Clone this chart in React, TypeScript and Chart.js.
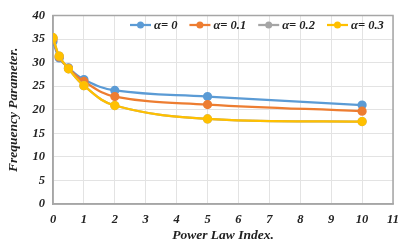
import React, { useEffect, useRef } from "react";
import { Chart, registerables } from "chart.js";

Chart.register(...registerables);

const powerLawIndex = [0, 0.2, 0.5, 1, 2, 5, 10];
const alpha0 = [34.5, 31.0, 28.9, 26.4, 24.1, 22.8, 21.0];
const alpha01 = [35.0, 31.2, 28.8, 26.0, 22.8, 21.1, 19.7];
const alpha02 = [35.3, 31.4, 28.7, 25.1, 20.9, 18.05, 17.5];
const alpha03 = [35.3, 31.4, 28.7, 25.1, 20.9, 18.05, 17.5];
const seriesLabels = ["α= 0", "α= 0.1", "α= 0.2", "α= 0.3"];
const seriesColors = ["#5B9BD5", "#ED7D31", "#A5A5A5", "#FFC000"];
const xTitle = "Power Law Index.";
const yTitle = "Frequency Parameter.";

const FONT = "Liberation Serif";

const legendPlugin = {
  id: "insideLegend",
  afterDraw(chart: any) {
    const ctx = chart.ctx;
    ctx.save();
    ctx.font = `italic bold 12.5px "${FONT}"`;
    ctx.textBaseline = "middle";
    let x = 130;
    const y = 25;
    chart.data.datasets.forEach((ds: any) => {
      ctx.strokeStyle = ds.borderColor;
      ctx.lineWidth = 2.25;
      ctx.beginPath();
      ctx.moveTo(x, y);
      ctx.lineTo(x + 21, y);
      ctx.stroke();
      ctx.fillStyle = ds.borderColor;
      ctx.beginPath();
      ctx.arc(x + 10.5, y, 3.5, 0, Math.PI * 2);
      ctx.fill();
      ctx.fillStyle = "#222";
      ctx.fillText(ds.label, x + 24, y + 0.5);
      x += 24 + ctx.measureText(ds.label).width + 12;
    });
    ctx.restore();
  },
};

const borderPlugin = {
  id: "plotBorder",
  beforeDatasetsDraw(chart: any) {
    const { ctx, chartArea } = chart;
    ctx.save();
    ctx.strokeStyle = "#A6A6A6";
    ctx.lineWidth = 1.5;
    ctx.strokeRect(chartArea.left, chartArea.top, chartArea.right - chartArea.left, chartArea.bottom - chartArea.top);
    ctx.restore();
  },
};

export default function App() {
  const ref = useRef<HTMLCanvasElement>(null);
  useEffect(() => {
    if (!ref.current) return;
    const series = [alpha0, alpha01, alpha02, alpha03];
    const font = { family: FONT, size: 12.5, weight: "bold" as const, style: "italic" as const };
    const chart = new Chart(ref.current, {
      type: "line",
      data: {
        datasets: series.map((vals, i) => ({
          label: seriesLabels[i],
          data: powerLawIndex.map((x, j) => ({ x, y: vals[j] })),
          borderColor: seriesColors[i],
          backgroundColor: seriesColors[i],
          pointBackgroundColor: seriesColors[i],
          pointBorderColor: seriesColors[i],
          borderWidth: 2.25,
          pointRadius: 3.5,
          tension: 0.4,
          order: series.length - i,
        })),
      },
      options: {
        animation: false,
        responsive: false,
        layout: { padding: { top: 12, right: 15, left: 0, bottom: 0 } },
        plugins: { legend: { display: false }, tooltip: { enabled: false } },
        scales: {
          x: {
            type: "linear",
            min: 0,
            max: 11,
            ticks: { stepSize: 1, font, color: "#222", padding: 8 },
            grid: { color: "#E3E3E3", drawTicks: false },
            border: { color: "#A6A6A6", width: 1.5 },
            title: { display: true, text: xTitle, font: { ...font, size: 13.5 }, color: "#222", padding: { top: 0, bottom: 4 } },
            afterFit(scale: any) { scale.height = 44; },
          },
          y: {
            type: "linear",
            min: 0,
            max: 40,
            ticks: { stepSize: 5, font, color: "#222", padding: 8 },
            grid: { color: "#E3E3E3", drawTicks: false },
            border: { color: "#A6A6A6", width: 1.5 },
            title: { display: true, text: yTitle, font: { ...font, size: 13.5 }, color: "#222", padding: { top: 5, bottom: 0 } },
            afterFit(scale: any) { scale.width = 53; },
          },
        },
      },
      plugins: [borderPlugin, legendPlugin],
    });
    return () => chart.destroy();
  }, []);
  return (
    <div style={{ position: "absolute", left: 0, top: 0, width: 408, height: 248, background: "#fff" }}>
      <canvas ref={ref} width={408} height={248} />
    </div>
  );
}
